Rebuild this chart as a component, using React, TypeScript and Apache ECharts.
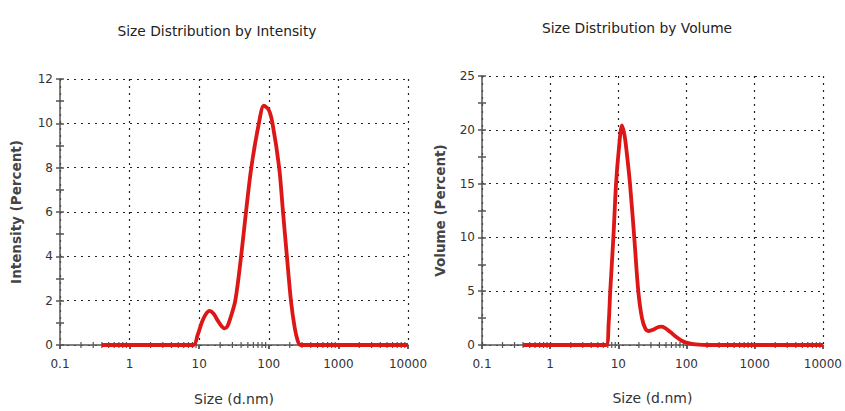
import React, { useEffect, useRef } from "react";
import * as echarts from "echarts";

const xTickLabels = ["0.1", "1", "10", "100", "1000", "10000"];

const intensitySizes = [0.4, 1, 2, 5, 8.3, 9.5, 11, 12.5, 14.1, 16, 18.5, 21, 23.3, 25.5, 28, 33, 40, 47, 56, 72, 85, 100, 113, 141, 160, 182, 208, 235, 260, 285, 1000, 10000];
const intensityValues = [0, 0, 0, 0, 0, 0.45, 1.05, 1.4, 1.54, 1.42, 1.1, 0.85, 0.75, 0.85, 1.2, 2, 4, 6, 8, 10, 10.8, 10.6, 10, 8, 6, 4, 2, 0.8, 0.2, 0, 0, 0];

const volumeSizes = [0.4, 1, 3, 6.6, 7.2, 7.6, 8.45, 9.25, 10.1, 11.3, 12.3, 13.2, 14.8, 17.1, 19.6, 22.2, 25, 28, 33, 38, 42, 48, 58, 70, 85, 110, 150, 200, 1000, 10000];
const volumeValues = [0, 0, 0, 0, 2, 5, 10, 15, 18, 20.4, 19.5, 18, 15, 10, 5, 2.5, 1.5, 1.3, 1.45, 1.65, 1.7, 1.6, 1.2, 0.77, 0.4, 0.15, 0.03, 0, 0, 0];

const minorTickSizes = [
  0.2, 0.3, 0.4, 0.5, 0.6, 0.7, 0.8, 0.9,
  2, 3, 4, 5, 6, 7, 8, 9,
  20, 30, 40, 50, 60, 70, 80, 90,
  200, 300, 400, 500, 600, 700, 800, 900,
  2000, 3000, 4000, 5000, 6000, 7000, 8000, 9000,
];

const FONT = "DejaVu Sans";
const AXIS_COLOR = "#555";
const LINE_COLOR = "#dd1616";

function makeXAxes(gridIndex: number, nameGap: number) {
  const base = {
    type: "log" as const,
    logBase: 10,
    min: 0.1,
    max: 10000,
    gridIndex,
  };
  return [
    {
      ...base,
      name: "Size (d.nm)",
      nameLocation: "middle",
      nameGap,
      nameTextStyle: { fontFamily: FONT, fontSize: 14, color: "#333" },
      axisLine: { show: true, onZero: false, lineStyle: { color: AXIS_COLOR, width: 1.5 } },
      axisTick: { show: true, length: 4, lineStyle: { color: AXIS_COLOR, width: 1.5 } },
      axisLabel: {
        fontFamily: FONT,
        fontSize: 12,
        color: "#333",
        margin: 13,
        formatter: (v: number) => {
          const idx = Math.round(Math.log10(v) + 1);
          return xTickLabels[idx] ?? String(v);
        },
      },
      splitLine: { show: true, lineStyle: { color: "#222", type: [2, 5], width: 1.2 } },
    },
    {
      ...base,
      axisLine: { show: false },
      axisTick: { show: true, inside: true, length: 4, lineStyle: { color: AXIS_COLOR, width: 1.5 } },
      axisLabel: { show: false },
      splitLine: { show: false },
    },
  ];
}

function makeYAxes(gridIndex: number, name: string, max: number, interval: number, nameGap: number) {
  const base = { type: "value" as const, min: 0, max, interval, gridIndex, position: "left" as const };
  return [
    {
      ...base,
      name,
      nameLocation: "middle",
      nameGap,
      nameTextStyle: { fontFamily: FONT, fontSize: 13.5, fontWeight: "bold", color: "#444" },
      axisLine: { show: true, lineStyle: { color: AXIS_COLOR, width: 1.5 } },
      axisTick: { show: true, length: 4, lineStyle: { color: AXIS_COLOR, width: 1.5 } },
      minorTick: { show: true, splitNumber: 2, length: 4, lineStyle: { color: AXIS_COLOR, width: 1.5 } },
      axisLabel: { fontFamily: FONT, fontSize: 12, color: "#333", margin: 7 },
      splitLine: { show: true, lineStyle: { color: "#222", type: [2, 5], width: 1.2 } },
    },
    {
      ...base,
      axisLine: { show: false },
      axisTick: { show: true, inside: true, length: 4, lineStyle: { color: AXIS_COLOR, width: 1.5 } },
      minorTick: { show: true, splitNumber: 2, length: 4, lineStyle: { color: AXIS_COLOR, width: 1.5 } },
      axisLabel: { show: false },
      splitLine: { show: false },
    },
  ];
}

function minorTickSeries(xAxisIndex: number, yAxisIndex: number) {
  return {
    type: "custom",
    xAxisIndex,
    yAxisIndex,
    z: 1,
    silent: true,
    data: minorTickSizes.map((s) => [s, 0]),
    renderItem: (_params: any, api: any) => {
      const p = api.coord([api.value(0), 0]);
      return {
        type: "line",
        shape: { x1: p[0], y1: p[1] - 3, x2: p[0], y2: p[1] + 3 },
        style: { stroke: AXIS_COLOR, lineWidth: 1.2 },
      };
    },
  };
}

export default function App() {
  const ref = useRef<HTMLDivElement>(null);

  useEffect(() => {
    if (!ref.current) return;
    const chart = echarts.init(ref.current, undefined, { renderer: "svg" });
    const option = {
      animation: false,
      backgroundColor: "#fff",
      title: [
        {
          text: "Size Distribution by Intensity",
          left: 212,
          top: 19,
          textAlign: "center",
          textStyle: { fontFamily: FONT, fontSize: 13.8, fontWeight: "normal", color: "#222" },
        },
        {
          text: "Size Distribution by Volume",
          left: 632,
          top: 16,
          textAlign: "center",
          textStyle: { fontFamily: FONT, fontSize: 13.8, fontWeight: "normal", color: "#222" },
        },
      ],
      grid: [
        { left: 60, right: 437, top: 79, bottom: 64, containLabel: false },
        { left: 482, right: 21, top: 76, bottom: 66, containLabel: false },
      ],
      xAxis: [...makeXAxes(0, 47), ...makeXAxes(1, 46)],
      yAxis: [
        ...makeYAxes(0, "Intensity (Percent)", 12, 2, 37),
        ...makeYAxes(1, "Volume (Percent)", 25, 5, 35),
      ],
      series: [
        minorTickSeries(0, 0),
        minorTickSeries(2, 2),
        {
          type: "line",
          xAxisIndex: 0,
          yAxisIndex: 0,
          z: 3,
          smooth: 0.3,
          showSymbol: false,
          lineStyle: { color: LINE_COLOR, width: 3.8 },
          data: intensitySizes.map((s, i) => [s, intensityValues[i]]),
        },
        {
          type: "line",
          xAxisIndex: 2,
          yAxisIndex: 2,
          z: 3,
          smooth: 0.3,
          showSymbol: false,
          lineStyle: { color: LINE_COLOR, width: 3.8 },
          data: volumeSizes.map((s, i) => [s, volumeValues[i]]),
        },
      ],
    };
    chart.setOption(option as any);
    return () => chart.dispose();
  }, []);

  return (
    <div
      ref={ref}
      style={{ position: "fixed", left: 0, top: 0, width: 845, height: 411, background: "#fff" }}
    />
  );
}
